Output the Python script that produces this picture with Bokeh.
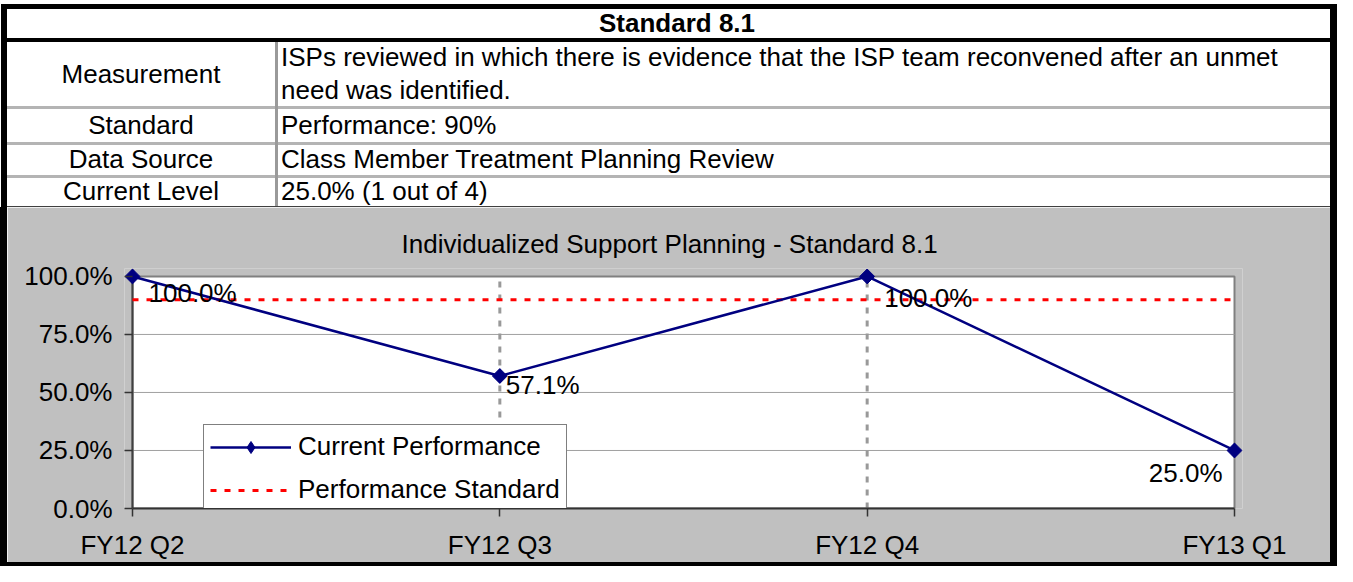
import math
from bokeh.plotting import figure
from bokeh.layouts import column, row
from bokeh.models import (Range1d, FixedTicker, NumeralTickFormatter, Legend,
                          LegendItem, ColumnDataSource, Div)
from bokeh.core.properties import value
from bokeh.embed import file_html
from bokeh.resources import INLINE

FONT = "Liberation Sans"
FS = "26px"

# ---------------- data ----------------
categories = ["FY12 Q2", "FY12 Q3", "FY12 Q4", "FY13 Q1"]
current_performance = [1.0, 0.571, 1.0, 0.25]
performance_standard = [0.9, 0.9, 0.9, 0.9]
y_ticks = [0.0, 0.25, 0.5, 0.75, 1.0]
series_names = ["Current Performance", "Performance Standard"]
chart_title = "Individualized Support Planning - Standard 8.1"

table_title = "Standard 8.1"
table_headers = ["Measurement", "Standard", "Data Source", "Current Level"]
table_values = [
    ["ISPs reviewed in which there is evidence that the ISP team reconvened after an unmet",
     "need was identified."],
    ["Performance: 90%"],
    ["Class Member Treatment Planning Review"],
    ["25.0% (1 out of 4)"],
]

# ---------------- layout constants ----------------
W = 1337
H_TABLE = 207
BORDER = 7
BOTTOM = 4
H_CHART = 566 - H_TABLE - BOTTOM      # 355
W_CHART = W - 2 * BORDER              # 1323

# ---------------- table (HTML) ----------------
def rect(l, t, w, h, c):
    return (f'<div style="position:absolute;left:{l}px;top:{t}px;width:{w}px;'
            f'height:{h}px;background:{c};"></div>')


def txt(s, l, t, w, h, align="left", weight="normal"):
    return (f'<div style="position:absolute;left:{l}px;top:{t}px;width:{w}px;height:{h}px;'
            f'line-height:{h}px;text-align:{align};white-space:nowrap;font-weight:{weight};">'
            f'{s}</div>')


row_tops = [42, 108.5, 144.5, 177.5]
row_bots = [106, 142, 175, 205.5]
parts = []
parts.append(rect(1, 4, BORDER - 1, H_TABLE - 4, "#000"))
parts.append(rect(W - BORDER, 4, BORDER, H_TABLE - 4, "#000"))
parts.append(rect(1, 4, W - 1, 5, "#000"))
parts.append(rect(1, 38, W - 1, 4, "#000"))
for y0, y1 in [(106, 108.5), (142, 144.5), (175, 177.5)]:
    parts.append(rect(BORDER, y0, W - 2 * BORDER, y1 - y0, "#b4b4b4"))
parts.append(rect(275, 42, 2.5, H_TABLE - 42, "#9a9a9a"))
parts.append(rect(BORDER, 205.5, W - 2 * BORDER, 2, "#404040"))

parts.append(txt(table_title, BORDER, 9, 1340, 29, "center", "bold"))
for i, head in enumerate(table_headers):
    top, bot = row_tops[i], row_bots[i]
    c = (top + bot) / 2
    parts.append(txt(head, BORDER, c - 16.5, 268, 33, "center"))
    lines = table_values[i]
    n = len(lines)
    for j, ln in enumerate(lines):
        cy = c + (j - (n - 1) / 2) * 33
        parts.append(txt(ln, 281, cy - 16.5, 1040, 33, "left"))

table_html = (f'<div style="position:relative;width:{W}px;height:{H_TABLE}px;background:#fff;'
              f'overflow:hidden;font-family:\'{FONT}\',Arial,sans-serif;font-size:{FS};'
              f'color:#000;">' + "".join(parts) + '</div>')
table_div = Div(text=table_html, width=W, height=H_TABLE, margin=0)

# ---------------- chart figure ----------------
PA_L, PA_R, PA_T, PA_B = 125, 1227, 69, 303   # plot-area pixel box inside the figure
PAD = 8
n = len(categories)
xs = list(range(n))
xpp = (n - 1) / (PA_R - PA_L)
ypp = (y_ticks[-1] - y_ticks[0]) / (PA_B - PA_T)

p = figure(width=W_CHART, height=H_CHART,
           x_range=Range1d(xs[0] - PAD * xpp, xs[-1] + PAD * xpp),
           y_range=Range1d(y_ticks[0], y_ticks[-1] + PAD * ypp),
           min_border_left=PA_L - PAD, min_border_right=W_CHART - (PA_R + PAD),
           min_border_top=PA_T - PAD, min_border_bottom=H_CHART - PA_B,
           toolbar_location=None, output_backend="svg",
           background_fill_color="#c0c0c0", border_fill_color="#c0c0c0",
           outline_line_color=None, title=chart_title, margin=0)
p.grid.visible = False

p.title.align = "left"
p.title.offset = 277
p.title.standoff = 20
p.title.text_font = FONT
p.title.text_font_size = FS
p.title.text_font_style = "normal"
p.title.text_color = "black"

# plot area
p.quad(left=[xs[0]], right=[xs[-1]], bottom=[y_ticks[0]], top=[y_ticks[-1]],
       fill_color="white", line_color="#808080", line_width=2)
# horizontal gridlines
inner = y_ticks[1:-1]
p.segment(x0=[xs[0]] * len(inner), x1=[xs[-1]] * len(inner), y0=inner, y1=inner,
          line_color="#a0a0a0", line_width=1)
# vertical dashed gridlines
vin = xs[1:-1]
p.segment(x0=vin, x1=vin, y0=[y_ticks[0]] * len(vin), y1=[y_ticks[-1]] * len(vin),
          line_color="#999999", line_width=3, line_dash="6 7")
# value axis line
p.segment(x0=[xs[0]], x1=[xs[0]], y0=[y_ticks[0]], y1=[y_ticks[-1]],
          line_color="#404040", line_width=2)

std_r = p.line(xs, performance_standard, line_color="#ff0000", line_width=3, line_dash="6 8")
cur_line = p.line(xs, current_performance, line_color="#000080", line_width=2.5)
cur_leg = p.scatter(xs, current_performance, marker="diamond", size=14,
                    fill_color="#000080", line_color="#000080")
cur_pts = p.scatter(xs, current_performance, marker="square", angle=math.pi / 4, size=10.5,
                    fill_color="#000080", line_color="#000080")

labels = ["{:.1%}".format(v) for v in current_performance]
lab_dx = [16, 6, 17, -12]
lab_dy = [17, 9, 22, 23]
left_idx = [0, 1, 2]
right_idx = [3]


def label_src(idx):
    return ColumnDataSource(dict(x=[xs[i] for i in idx],
                                 y=[current_performance[i] for i in idx],
                                 t=[labels[i] for i in idx],
                                 dx=[lab_dx[i] for i in idx],
                                 dy=[lab_dy[i] for i in idx]))


p.text(x="x", y="y", text="t", x_offset="dx", y_offset="dy", source=label_src(left_idx),
       text_font=value(FONT), text_font_size=FS, text_align="left",
       text_baseline="middle", text_color="black")
p.text(x="x", y="y", text="t", x_offset="dx", y_offset="dy", source=label_src(right_idx),
       text_font=value(FONT), text_font_size=FS, text_align="right",
       text_baseline="middle", text_color="black")

# axes
p.xaxis.ticker = FixedTicker(ticks=xs)
p.xaxis.major_label_overrides = {i: c for i, c in enumerate(categories)}
p.xaxis.bounds = (xs[0], xs[-1])
p.yaxis.ticker = FixedTicker(ticks=y_ticks)
p.yaxis.formatter = NumeralTickFormatter(format="0.0%")
p.yaxis.bounds = (y_ticks[0], y_ticks[-1])
for ax in (p.xaxis, p.yaxis):
    ax.axis_line_color = "#333333"
    ax.axis_line_width = 2
    ax.major_tick_line_color = "#333333"
    ax.major_tick_line_width = 1.5
    ax.minor_tick_out = 0
    ax.minor_tick_in = 0
    ax.major_label_text_font = FONT
    ax.major_label_text_font_size = FS
    ax.major_label_text_color = "black"
p.xaxis.major_tick_out = 8
p.xaxis.major_tick_in = 0
p.xaxis.major_label_standoff = 13
p.yaxis.axis_line_color = None
p.yaxis.major_tick_out = 0
p.yaxis.major_tick_in = PAD
p.yaxis.major_label_standoff = 12

legend = Legend(items=[LegendItem(label=series_names[0], renderers=[cur_line, cur_leg]),
                       LegendItem(label=series_names[1], renderers=[std_r])],
                location=(79, -4), border_line_color="black", border_line_width=1,
                background_fill_color="white", background_fill_alpha=1.0,
                label_text_font=FONT, label_text_font_size=FS, label_text_color="black",
                glyph_width=81, glyph_height=30, label_height=30, spacing=12,
                padding=6, margin=0, label_standoff=7)
p.add_layout(legend)


def black_div(w, h):
    return Div(text="", width=w, height=h, margin=0,
               styles={"background-color": "#000000"})


layout = column(table_div,
                row(black_div(BORDER, H_CHART), p, black_div(BORDER, H_CHART), spacing=0),
                black_div(W, BOTTOM),
                spacing=0)
open("out.html", "w").write(file_html(layout, INLINE))
